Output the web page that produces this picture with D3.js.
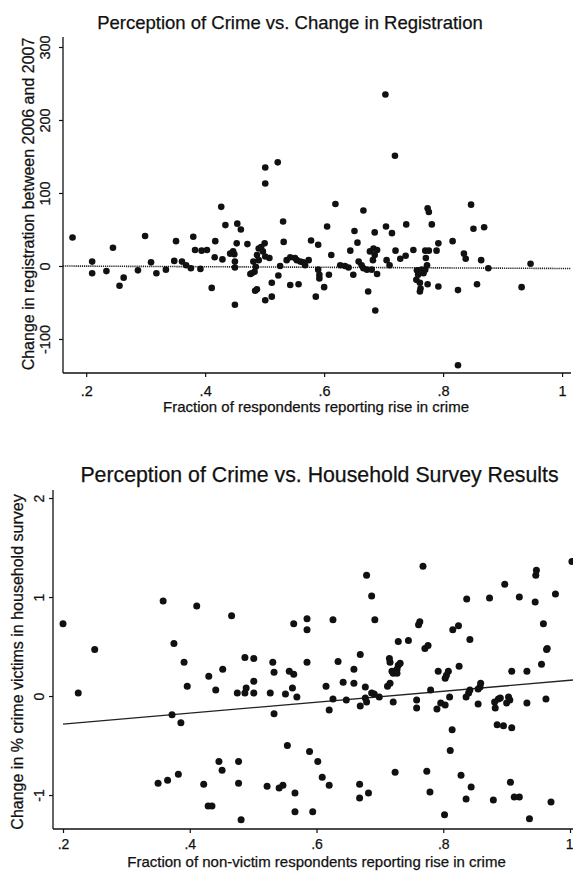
<!DOCTYPE html>
<html>
<head>
<meta charset="utf-8">
<script src="https://cdn.jsdelivr.net/npm/d3@7"></script>
<style>
  html, body { margin: 0; padding: 0; background: #fff; }
  svg { display: block; }
  text { font-family: "Liberation Sans", Arial, Helvetica, sans-serif; fill: #111; }
</style>
</head>
<body>
<svg id="fig" width="573" height="874"></svg>
<script>
// ---- Panel 1: perception of crime vs. change in registration ----
const regX = [0.177,0.210,0.210,0.234,0.245,0.263,0.256,0.287,0.299,0.309,0.318,0.334,0.348,0.351,0.361,0.368,0.376,0.380,0.383,0.392,
  0.394,0.403,0.411,0.416,0.417,0.429,0.427,0.434,0.442,0.454,0.460,0.450,0.453,0.447,0.449,0.450,0.450,0.471,0.476,0.478,
  0.481,0.484,0.487,0.485,0.490,0.494,0.500,0.497,0.487,0.501,0.508,0.490,0.483,0.501,0.501,0.522,0.501,0.512,0.512,0.523,
  0.526,0.531,0.532,0.537,0.543,0.551,0.554,0.560,0.565,0.574,0.568,0.543,0.557,0.578,0.590,0.612,0.590,0.592,0.592,0.608,
  0.600,0.586,0.619,0.605,0.627,0.635,0.641,0.649,0.644,0.651,0.656,0.666,0.658,0.663,0.666,0.672,0.680,0.689,0.674,0.686,
  0.685,0.677,0.683,0.689,0.685,0.682,0.703,0.719,0.704,0.714,0.705,0.710,0.720,0.728,0.737,0.738,0.750,0.756,0.758,0.755,
  0.762,0.761,0.761,0.764,0.767,0.774,0.776,0.781,0.770,0.776,0.771,0.773,0.770,0.774,0.789,0.792,0.792,0.816,0.825,0.825,
  0.835,0.838,0.847,0.851,0.869,0.864,0.876,0.857,0.932,0.947];
const regY = [39,6,-10,-7,25,-16,-27,-6,41,5,-10,-5,7,34,6,1,-3,40,22,-4,
  21,22,-30,12,34,9,81,56,17,58,50,-53,31,20,16,6,-2,30,-11,-10,
  6,-34,-32,-1,24,26,31,20,15,13,11,8,-8,113,135,142,-47,-42,-23,-13,
  0,61,33,8,12,11,8,6,5,8,1,-26,-25,35,29,15,-5,-12,-17,-12,
  -29,-42,85,54,1,0,-2,-12,21,48,32,76,6,1,-3,-5,-5,-11,-35,-61,
  46,20,24,22,15,8,235,151,54,45,8,1,21,10,14,57,22,-6,-12,-19,
  -31,-23,-35,-5,-10,79,74,57,21,21,11,1,-5,-25,21,31,-28,34,-33,-136,
  17,10,84,51,53,8,-3,-25,-29,3];
const regXTicks = [0.2, 0.4, 0.6, 0.8, 1];
const regYTicks = [-100, 0, 100, 200, 300];
const regXDomain = [0.161, 1.015];
const regYDomain = [-146.6, 313.7];
// fitted line: y = a + b*x
const regFit = [0.6, -4.0];
const regTitle = "Perception of Crime vs. Change in Registration";
const regXTitle = "Fraction of respondents reporting rise in crime";
const regYTitle = "Change in registration between 2006 and 2007";

// ---- Panel 2: perception of crime vs. household survey ----
const hhX = [0.200,0.358,0.411,0.466,0.564,0.375,0.250,0.679,0.768,0.687,0.692,0.626,0.585,0.585,0.761,0.763,0.729,0.745,0.771,0.776,
  0.815,0.824,0.842,0.837,0.873,0.897,0.920,0.945,0.947,0.946,0.977,1.003,0.958,0.964,0.224,0.391,0.396,0.372,0.386,0.430,
  0.452,0.441,0.487,0.501,0.489,0.487,0.475,0.501,0.501,0.531,0.533,0.527,0.551,0.557,0.564,0.562,0.569,0.533,0.554,0.350,
  0.365,0.382,0.422,0.446,0.451,0.477,0.477,0.429,0.435,0.481,0.522,0.541,0.547,0.566,0.566,0.585,0.634,0.669,0.659,0.642,
  0.659,0.615,0.626,0.620,0.647,0.677,0.677,0.679,0.669,0.687,0.691,0.699,0.715,0.716,0.719,0.721,0.727,0.729,0.732,0.727,
  0.712,0.716,0.721,0.758,0.758,0.780,0.792,0.803,0.805,0.808,0.790,0.796,0.803,0.810,0.825,0.836,0.840,0.842,0.855,0.858,
  0.859,0.855,0.881,0.882,0.887,0.890,0.900,0.903,0.905,0.908,0.932,0.932,0.955,0.963,0.962,0.885,0.895,0.908,0.814,0.811,
  0.589,0.602,0.609,0.620,0.594,0.668,0.668,0.682,0.724,0.774,0.779,0.802,0.828,0.844,0.836,0.879,0.906,0.912,0.920,0.936,0.970];
const hhY = [0.73,0.96,0.91,0.81,0.73,0.53,0.47,1.22,1.31,1.01,0.77,0.77,0.78,0.67,0.72,0.75,0.55,0.56,0.48,0.51,
  0.67,0.71,0.57,0.98,0.99,1.13,1.00,0.95,1.27,1.22,1.03,1.36,0.73,0.48,0.03,0.34,0.10,-0.19,-0.27,0.20,
  0.27,0.06,0.39,0.38,0.08,0.03,0.03,0.15,0.03,0.34,0.24,0.03,0.02,0.25,0.22,0.08,-0.01,-0.18,-0.50,-0.88,
  -0.85,-0.79,-0.89,-0.66,-0.75,-0.66,-0.88,-1.11,-1.11,-1.25,-0.91,-0.93,-0.90,-0.98,-1.17,0.34,0.35,0.42,0.27,0.14,
  0.13,0.10,-0.03,-0.14,-0.04,0.09,-0.02,-0.06,-0.10,0.03,0.02,-0.01,0.38,0.34,0.25,0.23,0.27,0.31,0.33,0.23,
  0.10,0.13,-0.06,-0.04,-0.12,0.06,0.25,0.18,0.21,0.25,-0.13,-0.07,-0.09,-0.01,0.30,-0.01,0.03,0.06,-0.08,0.09,
  0.13,0.07,-0.06,-0.12,-0.03,-0.02,-0.07,-0.01,-0.04,0.25,0.25,-0.07,0.32,0.47,-0.03,-0.29,-0.30,-0.32,-0.34,-0.55,
  -0.56,-0.66,-0.82,-0.90,-1.17,-0.89,-1.03,-0.98,-0.77,-0.76,-0.97,-1.20,-0.80,-0.92,-1.04,-1.05,-0.87,-1.02,-1.02,-1.24,-1.07];
const hhXTicks = [0.2, 0.4, 0.6, 0.8, 1];
const hhYTicks = [-1, 0, 1, 2];
const hhXDomain = [0.1842, 1.0047];
const hhYDomain = [-1.343, 2.081];
const hhFit = [-0.394, 0.553];
const hhTitle = "Perception of Crime vs. Household Survey Results";
const hhXTitle = "Fraction of non-victim respondents reporting rise in crime";
const hhYTitle = "Change in % crime victims in household survey";

// Stata-style tick labels: ".2", "1", "-100"
const fmtFrac = v => v === 1 ? "1" : String(v).replace(/^0\./, ".");
const fmtInt = v => String(v);

const svg = d3.select("#fig");
svg.append("rect").attr("width", 573).attr("height", 874).attr("fill", "#fff");

// light outline on text gives the heavier print look of the figure
function ink(sel) {
  return sel.attr("fill", "#111").attr("stroke", "#111").attr("stroke-width", 0.25);
}

function panel(cfg) {
  const g = svg.append("g");
  const x = d3.scaleLinear().domain(cfg.xDomain).range([cfg.left, cfg.right]);
  const y = d3.scaleLinear().domain(cfg.yDomain).range([cfg.bottom, cfg.top]);

  const xAxis = d3.axisBottom(x).tickValues(cfg.xTicks).tickSize(4).tickFormat(cfg.xFmt);
  const yAxis = d3.axisLeft(y).tickValues(cfg.yTicks).tickSize(4).tickFormat(cfg.yFmt);

  const gx = g.append("g").attr("transform", `translate(0,${cfg.bottom})`).call(xAxis);
  const gy = g.append("g").attr("transform", `translate(${cfg.left},0)`).call(yAxis);
  [gx, gy].forEach(a => {
    a.select(".domain").attr("stroke", "#111").attr("stroke-width", 1.3);
    a.selectAll(".tick line").attr("stroke", "#111").attr("stroke-width", 1.2);
    ink(a.selectAll("text")).attr("font-size", cfg.tickSize)
      .attr("font-family", '"Liberation Sans", Arial, sans-serif');
  });
  // axis lines spanning the whole plot region
  gx.select(".domain").attr("d", `M${cfg.left},0H${cfg.right}`);
  gy.select(".domain").attr("d", `M0,${cfg.bottom}V${cfg.top}`);

  gx.selectAll(".tick text").attr("y", null).attr("dy", null)
    .attr("transform", `translate(0,${cfg.xTickBase - cfg.bottom})`);
  // keep a label that sits on the right edge inside the page
  gx.selectAll(".tick text").filter(d => x(d) > 566).attr("text-anchor", "end").attr("x", 3);
  // vertical y tick labels
  gy.selectAll(".tick text").attr("x", null).attr("dy", null)
    .attr("text-anchor", "middle")
    .attr("transform", `translate(${cfg.yTickBase - cfg.left},0) rotate(-90)`);

  // fitted line
  const [a, b] = cfg.fit;
  const fx = cfg.fitRange || cfg.xDomain;
  g.append("line")
    .attr("x1", x(fx[0])).attr("y1", y(a + b * fx[0]))
    .attr("x2", x(fx[1])).attr("y2", y(a + b * fx[1]))
    .attr("stroke", "#222").attr("stroke-width", cfg.fitWidth)
    .attr("stroke-dasharray", cfg.fitDash);

  // points
  g.append("g").selectAll("circle")
    .data(d3.zip(cfg.xs, cfg.ys))
    .join("circle")
    .attr("cx", d => x(d[0])).attr("cy", d => y(d[1]))
    .attr("r", cfg.r).attr("fill", "#111");

  // titles
  ink(g.append("text")).attr("x", cfg.titleX).attr("y", cfg.titleY)
    .attr("text-anchor", "middle").attr("font-size", cfg.titleSize).text(cfg.title);
  ink(g.append("text")).attr("x", cfg.xTitleX).attr("y", cfg.xTitleY)
    .attr("text-anchor", "middle").attr("font-size", cfg.xTitleSize).text(cfg.xTitle);
  ink(g.append("text"))
    .attr("transform", `translate(${cfg.yTitleX},${cfg.yTitleY}) rotate(-90)`)
    .attr("text-anchor", "middle").attr("font-size", cfg.yTitleSize).text(cfg.yTitle);
}

panel({
  xs: regX, ys: regY, xDomain: regXDomain, yDomain: regYDomain,
  xTicks: regXTicks, yTicks: regYTicks, xFmt: fmtFrac, yFmt: fmtInt,
  left: 63, right: 571, top: 37, bottom: 373,
  xTickBase: 396, yTickBase: 50, tickSize: 14.5,
  fit: regFit, fitWidth: 1.6, fitDash: "1.2,0.9",
  r: 3.3,
  title: regTitle, titleX: 290, titleY: 29, titleSize: 18.5,
  xTitle: regXTitle, xTitleX: 316, xTitleY: 412, xTitleSize: 15,
  yTitle: regYTitle, yTitleX: 34, yTitleY: 204, yTitleSize: 16
});

panel({
  xs: hhX, ys: hhY, xDomain: hhXDomain, yDomain: hhYDomain,
  xTicks: hhXTicks, yTicks: hhYTicks, xFmt: fmtFrac, yFmt: fmtInt,
  left: 53, right: 573, top: 490, bottom: 829,
  xTickBase: 849, yTickBase: 44, tickSize: 14,
  fit: hhFit, fitRange: [0.2, 1.005], fitWidth: 1.4, fitDash: null,
  r: 3.5,
  title: hhTitle, titleX: 319.5, titleY: 482, titleSize: 21.3,
  xTitle: hhXTitle, xTitleX: 316.5, xTitleY: 867, xTitleSize: 15
  ,
  yTitle: hhYTitle, yTitleX: 23, yTitleY: 662, yTitleSize: 16
});
</script>
</body>
</html>
